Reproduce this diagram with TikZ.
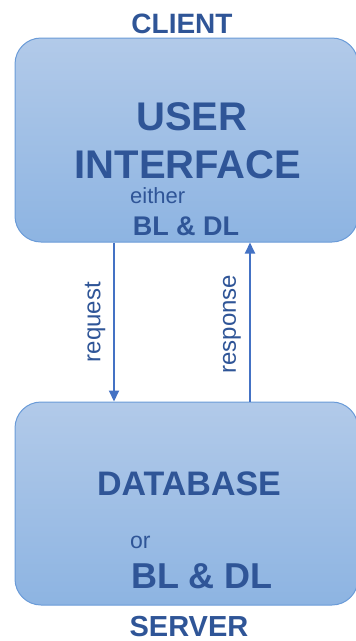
\documentclass[tikz,border=0pt]{standalone}
\usepackage{fontspec}
\setmainfont{Liberation Sans}
\usetikzlibrary{positioning,arrows.meta,calc}
\definecolor{ink}{HTML}{2F5597}
\definecolor{edge}{HTML}{6A9BD8}
\definecolor{boxtop}{HTML}{B2CAE9}
\definecolor{boxbot}{HTML}{8DB4E2}
\definecolor{wire}{HTML}{4472C4}
\newcommand{\fs}[1]{\fontsize{#1}{#1}\selectfont}
\tikzset{
  tier/.style={draw=edge, line width=1pt, rounded corners=26pt, top color=boxtop, bottom color=boxbot, minimum width=343pt, inner sep=0pt},
  head/.style={text=ink, font=\bfseries\fs{28}, anchor=base, inner sep=0pt},
  big/.style={text=ink, font=\bfseries\fs{40}, anchor=base, inner sep=0pt},
  mid/.style={text=ink, font=\bfseries\fs{34}, anchor=base, inner sep=0pt},
  small/.style={text=ink, font=\fs{23}, anchor=base west, inner sep=0pt},
  lab/.style={text=ink, font=\fs{24}, inner sep=0pt, rotate=90},
  wire/.style={draw=wire, line width=2pt, -{Triangle[length=11pt,width=10pt]}},
}
\begin{document}
\begin{tikzpicture}[x=1pt, y=-1pt]
  \useasboundingbox (0,0) rectangle (356,641);
  % the two tiers
  \node[tier, minimum height=204pt] (ui) at (186.5,140) {};
  \node[tier, minimum height=203pt] (db) at (186.5,503.5) {};
  % client side
  \node[head] (client) at (182,33) {CLIENT};
  \node[big] (user) at (192,130) {USER};
  \node[big] (iface) at (188,178) {INTERFACE};
  \node[small, font=\fs{22}] (either) at (130,203) {either};
  \node[head, font=\bfseries\fs{27}] (bldl1) at (186,235) {BL \& DL};
  % server side
  \node[mid] (dbase) at (189,495) {DATABASE};
  \node[small] (or) at (130,548) {or};
  \node[head, font=\bfseries\fs{36}] (bldl2) at (202,588) {BL \& DL};
  \node[head, font=\bfseries\fs{29}] (server) at (189,636) {SERVER};
  % messages
  \draw[wire] (ui.south -| 114,0) -- (db.north -| 114,0);
  \draw[wire] (db.north -| 250,0) -- (ui.south -| 250,0);
  \node[lab] (req) at (95,322) {request};
  \node[lab] (resp) at (232,324) {response};
\end{tikzpicture}
\end{document}
